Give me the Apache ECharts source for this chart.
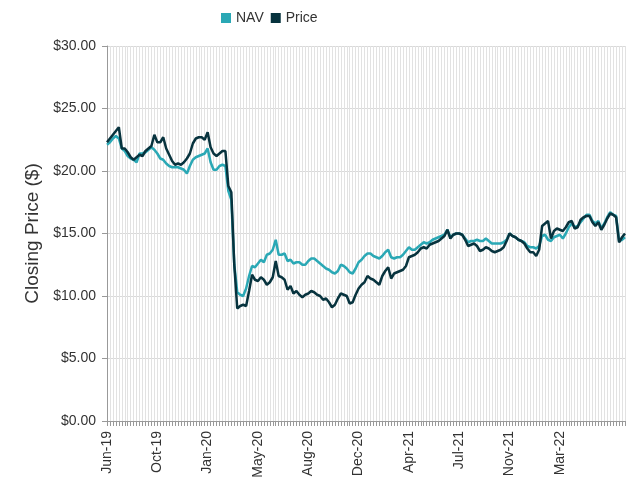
<!DOCTYPE html>
<html>
<head>
<meta charset="utf-8">
<script src="https://cdn.jsdelivr.net/npm/echarts@6/dist/echarts.min.js"></script>
<style>
	html, body { margin: 0; padding: 0; background: #fff; }
	#chart { width: 632px; height: 486px; }
</style>
</head>
<body>
<div id="chart"></div>
<script>
	// tick labels shown every 17th point
	const tickLabels = ['Jun-19', 'Oct-19', 'Jan-20', 'May-20', 'Aug-20', 'Dec-20', 'Apr-21', 'Jul-21', 'Nov-21', 'Mar-22']
	const labelStep = 17

	const navValues = [
		22.1, 22.3, 22.6, 22.8, 22.6, 21.8, 21.6, 21.2, 21.0, 20.9,
		20.7, 21.4, 21.4, 21.5, 21.7, 21.9, 21.7, 21.4, 21.0, 20.9,
		20.6, 20.4, 20.3, 20.3, 20.3, 20.2, 20.1, 19.8, 20.4, 20.9,
		21.1, 21.2, 21.3, 21.4, 21.8, 20.7, 20.1, 20.1, 20.4, 20.5,
		20.4, 18.4, 17.7, 12.5, 10.3, 10.1, 10.0, 10.6, 11.6, 12.4,
		12.3, 12.6, 12.9, 12.7, 13.3, 13.4, 13.7, 14.5, 13.3, 13.3,
		13.4, 12.8, 12.9, 12.6, 12.7, 12.7, 12.5, 12.5, 12.8, 13.0,
		13.0, 12.8, 12.6, 12.4, 12.2, 12.1, 11.9, 11.8, 12.0, 12.5,
		12.4, 12.2, 11.9, 11.8, 12.2, 12.7, 12.9, 13.2, 13.4, 13.4,
		13.2, 13.1, 13.0, 13.2, 13.5, 13.7, 13.1, 13.0, 13.1, 13.1,
		13.3, 13.6, 13.9, 13.7, 13.7, 13.9, 14.1, 14.3, 14.2, 14.3,
		14.5, 14.6, 14.7, 14.8, 14.9, 15.3, 14.7, 14.9, 15.0, 15.0,
		14.9, 14.6, 14.3, 14.4, 14.4, 14.5, 14.4, 14.4, 14.6, 14.4,
		14.2, 14.2, 14.2, 14.2, 14.3, 14.5, 15.0, 14.8, 14.7, 14.5,
		14.4, 14.3, 14.0, 13.9, 13.9, 13.8, 14.0, 14.8, 14.9, 14.5,
		14.4, 14.7, 14.8, 14.9, 14.6, 15.0, 15.5, 15.8, 15.5, 15.6,
		15.9, 16.2, 16.5, 16.5, 16.0, 15.8, 16.0, 15.4, 15.8, 16.3,
		16.7, 16.5, 16.4, 14.4, 14.5, 14.7
	]

	const priceValues = [
		22.3, 22.6, 22.9, 23.2, 23.5, 21.8, 21.8, 21.5, 21.1, 20.9,
		21.1, 21.3, 21.2, 21.6, 21.8, 22.0, 22.9, 22.3, 22.3, 22.7,
		21.8, 21.3, 20.8, 20.5, 20.6, 20.5, 20.7, 21.0, 21.4, 22.2,
		22.6, 22.7, 22.7, 22.5, 23.1, 21.9, 21.4, 21.2, 21.4, 21.6,
		21.6, 18.8, 18.3, 12.5, 9.0, 9.2, 9.3, 9.2, 10.4, 11.7,
		11.3, 11.2, 11.5, 11.3, 10.9, 11.1, 11.5, 12.8, 11.6, 11.5,
		11.3, 10.5, 10.8, 10.2, 10.4, 10.1, 9.9, 10.1, 10.2, 10.4,
		10.3, 10.1, 10.0, 9.7, 9.8, 9.5, 9.1, 9.3, 9.8, 10.2,
		10.1, 10.0, 9.4, 9.5, 10.1, 10.6, 10.9, 11.1, 11.6, 11.4,
		11.3, 11.1, 10.9, 11.6, 12.0, 12.3, 11.4, 11.8, 11.9, 12.0,
		12.1, 12.4, 13.1, 13.2, 13.3, 13.5, 13.8, 13.9, 13.8, 14.1,
		14.2, 14.3, 14.4, 14.6, 14.8, 15.3, 14.6, 14.9, 15.0, 15.0,
		14.9, 14.5, 14.0, 14.1, 14.2, 14.0, 13.6, 13.7, 13.9, 13.8,
		13.6, 13.5, 13.6, 13.7, 13.9, 14.4, 15.0, 14.8, 14.7, 14.5,
		14.4, 14.2, 13.8, 13.5, 13.5, 13.2, 13.7, 15.6, 15.8, 16.0,
		14.6, 15.2, 15.4, 15.3, 15.2, 15.5, 15.9, 16.0, 15.4, 15.5,
		16.1, 16.3, 16.4, 16.4, 15.9, 15.6, 15.9, 15.3, 15.7, 16.2,
		16.6, 16.5, 16.3, 14.3, 14.7, 15.0
	]

	const categories = navValues.map((v, i) => String(i))

	const chart = echarts.init(document.getElementById('chart'))
	chart.setOption({
		animation: false,
		textStyle: { fontFamily: 'Liberation Sans, Arial, sans-serif' },
		legend: {
			top: 6,
			left: 216,
			icon: 'rect',
			itemWidth: 10,
			itemHeight: 10,
			itemGap: 7,
			textStyle: { fontSize: 14, color: '#333' },
			data: ['NAV', 'Price']
		},
		grid: {
			left: 107,
			right: 7,
			top: 46,
			bottom: 65
		},
		xAxis: {
			type: 'category',
			boundaryGap: false,
			data: categories,
			axisLine: { lineStyle: { color: '#999' } },
			axisTick: { interval: 0, length: 5, lineStyle: { color: '#999' } },
			axisLabel: {
				interval: labelStep - 1,
				rotate: 90,
				fontSize: 14,
				color: '#333',
				margin: 10,
				formatter: (v, i) => tickLabels[i / labelStep] || ''
			},
			splitLine: { show: true, interval: 0, lineStyle: { color: '#e2e2e2', width: 1 } }
		},
		yAxis: {
			type: 'value',
			min: 0,
			max: 30,
			interval: 5,
			name: 'Closing Price ($)',
			nameLocation: 'middle',
			nameGap: 64,
			nameTextStyle: { fontSize: 19, color: '#333' },
			axisLine: { show: true, lineStyle: { color: '#999' } },
			axisTick: { show: true, length: 5, lineStyle: { color: '#999' } },
			axisLabel: {
				fontSize: 14,
				color: '#333',
				margin: 11,
				formatter: v => '$' + v.toFixed(2)
			},
			splitLine: { lineStyle: { color: '#d9d9d9' } }
		},
		series: [
			{
				name: 'NAV',
				type: 'line',
				data: navValues,
				symbol: 'none',
				color: '#2aa8b5',
				lineStyle: { width: 2.5 }
			},
			{
				name: 'Price',
				type: 'line',
				data: priceValues,
				symbol: 'none',
				color: '#07333e',
				lineStyle: { width: 2.5 }
			}
		]
	})
</script>
</body>
</html>
